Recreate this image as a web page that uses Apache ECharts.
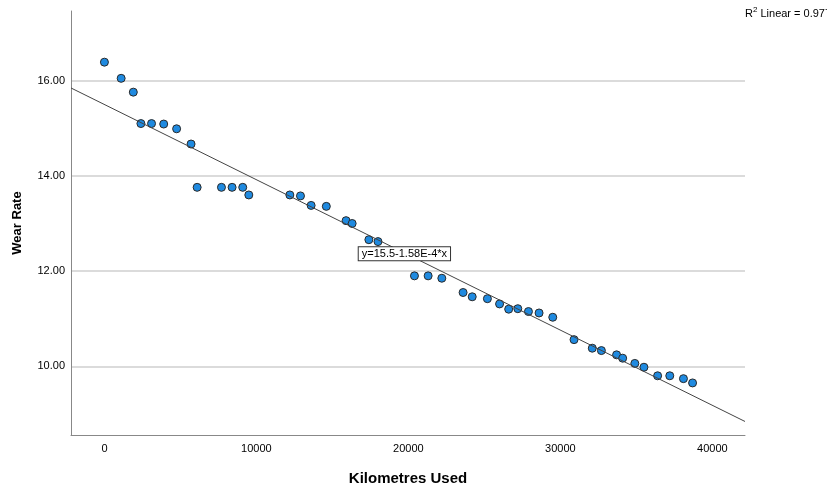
<!DOCTYPE html>
<html>
<head>
<meta charset="utf-8">
<script src="https://cdn.jsdelivr.net/npm/echarts@6/dist/echarts.min.js"></script>
<style>
  html, body { margin: 0; padding: 0; background: #fff; }
  #chart { width: 827px; height: 484px; }
</style>
</head>
<body>
<div id="chart"></div>
<script>
// kilometres used / wear rate
var kmUsed = [0, 1100, 1900, 2400, 3100, 3900, 4750, 5700, 6100, 7700, 8400, 9100, 9500,
  12200, 12900, 13600, 14600, 15900, 16300, 17400, 18000, 20400, 21300, 22200, 23600,
  24200, 25200, 26000, 26600, 27200, 27900, 28600, 29500, 30900, 32100, 32700, 33700,
  34100, 34900, 35500, 36400, 37200, 38100, 38700];
var wearRate = [16.39, 16.05, 15.76, 15.10, 15.10, 15.09, 14.99, 14.67, 13.76, 13.76, 13.76, 13.76, 13.60,
  13.60, 13.58, 13.38, 13.36, 13.06, 13.00, 12.66, 12.62, 11.90, 11.90, 11.85, 11.55,
  11.46, 11.42, 11.31, 11.20, 11.21, 11.15, 11.12, 11.03, 10.56, 10.38, 10.33, 10.24,
  10.17, 10.06, 9.98, 9.80, 9.80, 9.74, 9.65];

var xTicks = [0, 10000, 20000, 30000, 40000];
var yTicks = [10, 12, 14, 16];

// fit line given in the chart
var fitA = 15.5;
var fitB = -1.58e-4;
var fitText = 'y=15.5-1.58E-4*x';
var r2Text = '0.977';

var xMin = -2200, xMax = 42150;
var yMin = 8.556, yMax = 17.465;

var scatterData = [];
for (var i = 0; i < kmUsed.length; i++) {
  scatterData.push([kmUsed[i], wearRate[i]]);
}
var fitData = [[xMin, fitA + fitB * xMin], [xMax, fitA + fitB * xMax]];

var font = '"Liberation Sans", Arial, sans-serif';
var myChart = echarts.init(document.getElementById('chart'));

var option = {
  animation: false,
  backgroundColor: '#fff',
  textStyle: { fontFamily: font },
  grid: { left: 71, right: 82, top: 11, bottom: 49, containLabel: false, outerBoundsMode: 'none' },
  graphic: [{
    type: 'text',
    left: 745,
    top: 6,
    style: {
      text: '{n|R}{s|2}{n| Linear = ' + r2Text + '}',
      rich: {
        n: { fontSize: 11, fontFamily: font, fill: '#000', verticalAlign: 'bottom' },
        s: { fontSize: 8, fontFamily: font, fill: '#000', verticalAlign: 'top', padding: [0, 0, 5, 0] }
      }
    }
  }],
  xAxis: {
    type: 'value',
    min: xMin,
    max: xMax,
    name: 'Kilometres Used',
    nameLocation: 'middle',
    nameGap: 36,
    nameTextStyle: { fontSize: 15, fontWeight: 'bold', color: '#000', fontFamily: font },
    axisLine: { show: true, onZero: false, lineStyle: { color: '#888', width: 1 } },
    axisTick: { show: false, customValues: xTicks },
    axisLabel: {
      customValues: xTicks, fontSize: 11, color: '#000', margin: 8, fontFamily: font,
      formatter: function (v) { return String(v); }
    },
    splitLine: { show: false }
  },
  yAxis: {
    type: 'value',
    min: yMin,
    max: yMax,
    name: 'Wear Rate',
    nameLocation: 'middle',
    nameGap: 47,
    nameRotate: 90,
    nameTextStyle: { fontSize: 13, fontWeight: 'bold', color: '#000', fontFamily: font },
    axisLine: { show: true, onZero: false, lineStyle: { color: '#888', width: 1 } },
    axisTick: { show: false, customValues: yTicks },
    axisLabel: {
      customValues: yTicks, fontSize: 11, color: '#000', margin: 6, fontFamily: font,
      formatter: function (v) { return v.toFixed(2); }
    },
    splitLine: { show: true, lineStyle: { color: '#cfcfcf', width: 1.5 } }
  },
  series: [
    {
      name: 'Wear Rate',
      type: 'scatter',
      data: scatterData,
      symbol: 'circle',
      symbolSize: 8,
      z: 2,
      itemStyle: { color: '#1f8ae0', borderColor: '#2a2a2a', borderWidth: 1, opacity: 1 }
    },
    {
      name: 'Fit',
      type: 'line',
      data: fitData,
      showSymbol: false,
      silent: true,
      z: 3,
      lineStyle: { color: '#444', width: 1 },
      markPoint: {
        symbol: 'circle',
        symbolSize: 1,
        itemStyle: { color: 'rgba(0,0,0,0)' },
        data: [{ coord: [16700, 12.365] }],
        label: {
          show: true,
          position: 'right',
          distance: 0,
          formatter: fitText,
          fontSize: 11,
          fontFamily: font,
          color: '#000',
          backgroundColor: '#fff',
          borderColor: '#333',
          borderWidth: 1,
          padding: [1, 3, 1, 3]
        }
      }
    }
  ]
};
myChart.setOption(option);
window.onresize = myChart.resize;
</script>
</body>
</html>
